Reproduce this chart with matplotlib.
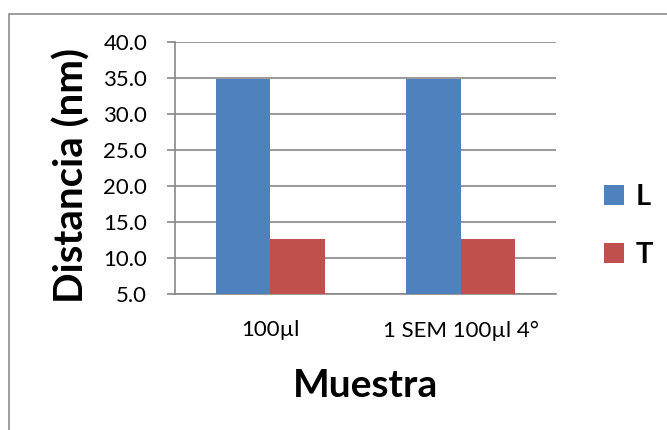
import matplotlib
matplotlib.use("Agg")
import matplotlib.pyplot as plt
from matplotlib.patches import Rectangle
import numpy as np

categories = ["100µl", "1 SEM 100µl 4°"]
series_names = ["L", "T"]
values_L = [34.9, 34.9]
values_T = [12.6, 12.6]
y_ticks = [5.0, 10.0, 15.0, 20.0, 25.0, 30.0, 35.0, 40.0]

blue = "#4F81BD"
red = "#C0504D"
grid_col = "#878787"

plt.rcParams['font.family'] = ['Lato', 'DejaVu Sans']

fig = plt.figure(figsize=(6.67, 4.30), dpi=100)
# outer chart border (runs off the right and bottom of the picture)
fig.patches.append(Rectangle((8.5 / 667, -0.1), 1.2, 1.1 - 13.5 / 430,
                             transform=fig.transFigure, fill=False,
                             edgecolor="#8c8c8c", linewidth=1.2))
ax = fig.add_axes([175 / 667, 1 - 294 / 430, 381 / 667, 252 / 430])

x = np.arange(len(categories))
w = 1 / 3.5
ax.bar(x - w / 2, np.array(values_L) - 5.0, w, bottom=5.0, color=blue, label=series_names[0], zorder=3)
ax.bar(x + w / 2, np.array(values_T) - 5.0, w, bottom=5.0, color=red, label=series_names[1], zorder=3)

ax.set_xlim(-0.5, len(categories) - 0.5)
ax.set_ylim(5.0, 40.0)
ax.set_yticks(y_ticks)
ax.set_yticklabels([f"{v:.1f}" for v in y_ticks], fontsize=16)
ax.set_xticks(x)
ax.set_xticklabels(categories, fontsize=16)
ax.tick_params(axis="x", length=0, pad=19)
ax.tick_params(axis="y", length=6, width=1.2, color=grid_col, pad=14)

ax.grid(axis="y", color=grid_col, linewidth=1.2, zorder=0)
for s in ["top", "right"]:
    ax.spines[s].set_visible(False)
for s in ["left", "bottom"]:
    ax.spines[s].set_color(grid_col)
    ax.spines[s].set_linewidth(1.2)

ax.set_ylabel("Distancia (nm)", fontsize=29, fontweight="bold", labelpad=9, y=0.47)
ax.set_xlabel("Muestra", fontsize=28, fontweight="bold", labelpad=20)

leg = ax.legend(loc="center left", bbox_to_anchor=(1.056, 0.27), frameon=False,
                prop={"size": 21, "weight": "bold"}, handlelength=0.7, handleheight=0.7,
                handletextpad=0.4, labelspacing=1.1)

fig.savefig("out.png", dpi=100)
